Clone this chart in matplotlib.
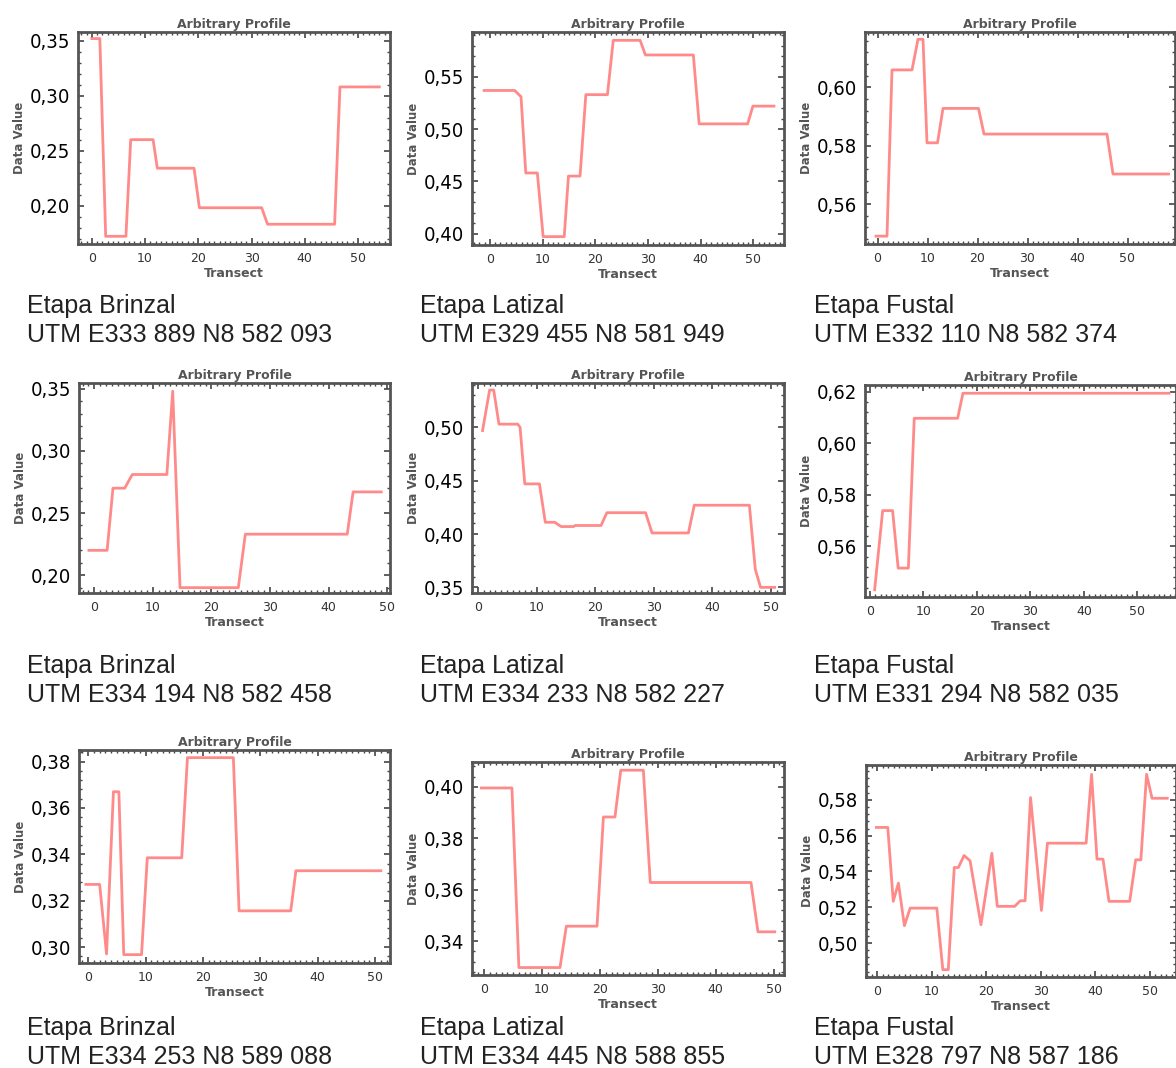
import matplotlib
matplotlib.use('Agg')
import matplotlib.pyplot as plt
from matplotlib.ticker import MultipleLocator, FuncFormatter

# profile vertices (transect, data value)
p1_x = [0, 1.5, 2.6, 6.4, 7.3, 11.5, 12.3, 19.2, 20.2, 31.9, 33.0, 45.6, 46.6, 54.0]
p1_y = [0.352, 0.352, 0.172, 0.172, 0.260, 0.260, 0.234, 0.234, 0.198, 0.198, 0.183, 0.183, 0.308, 0.308]

p2_x = [-1.1, 4.7, 5.9, 6.8, 9.0, 10.1, 14.1, 14.9, 17.1, 18.2, 22.3, 23.4, 28.5, 29.5, 38.6, 39.7, 48.9, 49.9, 53.9]
p2_y = [0.537, 0.537, 0.531, 0.458, 0.458, 0.397, 0.397, 0.455, 0.455, 0.533, 0.533, 0.585, 0.585, 0.571, 0.571, 0.505, 0.505, 0.522, 0.522]

p3_x = [-0.3, 1.9, 2.9, 6.9, 8.1, 9.1, 9.9, 12.0, 13.1, 20.2, 21.3, 45.9, 47.1, 58.2]
p3_y = [0.549, 0.549, 0.606, 0.606, 0.6165, 0.6165, 0.581, 0.581, 0.5928, 0.5928, 0.584, 0.584, 0.5703, 0.5703]

p4_x = [-0.9, 2.2, 3.2, 5.2, 6.5, 12.4, 13.4, 14.65, 24.6, 25.8, 43.2, 44.2, 49.0]
p4_y = [0.220, 0.220, 0.270, 0.270, 0.281, 0.281, 0.348, 0.190, 0.190, 0.233, 0.233, 0.267, 0.267]

p5_x = [0.8, 2.0, 2.7, 3.6, 6.8, 7.2, 8.0, 10.5, 11.5, 13.1, 14.2, 16.3, 16.6, 21.0, 22.0, 28.6, 29.7, 35.9, 36.9, 46.3, 47.3, 48.2, 50.6]
p5_y = [0.497, 0.535, 0.535, 0.503, 0.503, 0.500, 0.447, 0.447, 0.411, 0.411, 0.407, 0.407, 0.408, 0.408, 0.420, 0.420, 0.401, 0.401, 0.427, 0.427, 0.367, 0.350, 0.350]

p6_x = [0.9, 2.4, 4.25, 5.3, 7.2, 8.3, 16.4, 17.4, 55.9]
p6_y = [0.5432, 0.5739, 0.5739, 0.5516, 0.5516, 0.6097, 0.6097, 0.6194, 0.6194]

p7_x = [-0.4, 2.0, 3.2, 4.4, 5.35, 6.2, 9.3, 10.3, 16.3, 17.3, 25.3, 26.3, 35.3, 36.2, 51.0]
p7_y = [0.327, 0.327, 0.297, 0.367, 0.367, 0.2967, 0.2967, 0.3385, 0.3385, 0.3817, 0.3817, 0.3156, 0.3156, 0.3329, 0.3329]

p8_x = [-0.5, 4.8, 6.0, 13.1, 14.2, 19.5, 20.6, 22.6, 23.6, 27.5, 28.7, 46.1, 47.3, 50.2]
p8_y = [0.3996, 0.3996, 0.3297, 0.3297, 0.3458, 0.3458, 0.3883, 0.3883, 0.4065, 0.4065, 0.3628, 0.3628, 0.3436, 0.3436]

p9_x = [-0.2, 1.9, 2.9, 3.85, 4.95, 6.0, 10.9, 12.0, 13.0, 14.1, 14.85, 15.9, 17.0, 19.0, 21.0, 22.0, 25.2, 26.2, 27.1,
        28.1, 30.1, 31.2, 38.3, 39.3, 40.3, 41.4, 42.5, 46.3, 47.4, 48.35, 49.4, 50.4, 53.2]
p9_y = [0.5646, 0.5646, 0.5233, 0.5335, 0.5097, 0.5195, 0.5195, 0.4851, 0.4851, 0.5422, 0.5422, 0.5489, 0.546, 0.5102,
        0.5502, 0.5205, 0.5205, 0.5236, 0.5236, 0.5813, 0.5182, 0.5558, 0.5558, 0.5943, 0.5469, 0.5469, 0.5233, 0.5233,
        0.5465, 0.5465, 0.5943, 0.5809, 0.5809]

stages = ['Etapa Brinzal', 'Etapa Latizal', 'Etapa Fustal',
          'Etapa Brinzal', 'Etapa Latizal', 'Etapa Fustal',
          'Etapa Brinzal', 'Etapa Latizal', 'Etapa Fustal']
coords = ['UTM E333 889 N8 582 093', 'UTM E329 455 N8 581 949', 'UTM E332 110 N8 582 374',
          'UTM E334 194 N8 582 458', 'UTM E334 233 N8 582 227', 'UTM E331 294 N8 582 035',
          'UTM E334 253 N8 589 088', 'UTM E334 445 N8 588 855', 'UTM E328 797 N8 587 186']

series = [(p1_x, p1_y), (p2_x, p2_y), (p3_x, p3_y),
          (p4_x, p4_y), (p5_x, p5_y), (p6_x, p6_y),
          (p7_x, p7_y), (p8_x, p8_y), (p9_x, p9_y)]

W, H = 1176, 1068
# axes boxes in pixels: left, right, top, bottom
boxes = [(78, 390, 32, 244), (472, 784, 32, 245), (865, 1175, 32, 244),
         (79, 390, 383, 593), (472, 784, 383, 593), (865, 1176, 385, 597),
         (79, 390, 750, 963), (472, 784, 762, 975), (866, 1176, 765, 977)]
xlims = [(-2.6, 56.0), (-3.4, 55.8), (-2.5, 59.5),
         (-2.6, 50.5), (-1.0, 52.2), (-0.9, 57.2),
         (-1.6, 52.6), (-2.1, 51.8), (-2.1, 54.8)]
ylims = [(0.165, 0.358), (0.389, 0.593), (0.5463, 0.619),
         (0.1857, 0.3546), (0.3447, 0.5416), (0.5404, 0.6226),
         (0.2931, 0.385), (0.3268, 0.4097), (0.481, 0.5995)]
ymajor = [0.05, 0.05, 0.02, 0.05, 0.05, 0.02, 0.02, 0.02, 0.02]
yminor = [0.01, 0.01, 0.004, 0.01, 0.01, 0.004, 0.004, 0.004, 0.004]
caption_pos = [(27, 306), (420, 306), (814, 306),
               (27, 666), (420, 666), (814, 666),
               (27, 1028), (420, 1028), (814, 1028)]

fig = plt.figure(figsize=(W / 100, H / 100), dpi=100)
fig.patch.set_facecolor('white')

comma = FuncFormatter(lambda v, p: ('%.2f' % v).replace('.', ','))

for i, (xs, ys) in enumerate(series):
    l, r, t, b = boxes[i]
    ax = fig.add_axes([l / W, 1 - b / H, (r - l) / W, (b - t) / H])
    ax.plot(xs, ys, color='#ff8a8a', lw=2)
    ax.set_xlim(*xlims[i])
    ax.set_ylim(*ylims[i])
    ax.xaxis.set_major_locator(MultipleLocator(10))
    ax.xaxis.set_minor_locator(MultipleLocator(1))
    ax.yaxis.set_major_locator(MultipleLocator(ymajor[i]))
    ax.yaxis.set_minor_locator(MultipleLocator(yminor[i]))
    ax.yaxis.set_major_formatter(comma)
    ax.tick_params(which='both', direction='in', top=True, right=True, color='#444444')
    ax.tick_params(which='major', length=4, width=1.2)
    ax.tick_params(which='minor', length=2, width=1)
    ax.tick_params(axis='x', labelsize=9, labelcolor='#333333', pad=6)
    ax.tick_params(axis='y', labelsize=14.5, labelcolor='black', pad=6)
    for lab in ax.get_yticklabels():
        lab.set_family('DejaVu Sans')
        lab.set_stretch('condensed')
    for s in ax.spines.values():
        s.set_color('#555555')
        s.set_linewidth(2)
    ax.set_title('Arbitrary Profile', fontsize=9, color='#555555', fontweight='bold', pad=3)
    ax.set_xlabel('Transect', fontsize=9, color='#555555', fontweight='bold', labelpad=1)
    ax.set_ylabel('Data Value', fontsize=8.5, color='#555555', fontweight='bold')
    ax.yaxis.set_label_coords(-52 / (r - l), 0.5)

    cx, cy = caption_pos[i]
    fig.text(cx / W, 1 - cy / H, stages[i], fontsize=18, family='Liberation Sans',
             color='#222222', va='center', ha='left')
    fig.text(cx / W, 1 - (cy + 29) / H, coords[i], fontsize=18, family='Liberation Sans',
             color='#222222', va='center', ha='left')

fig.savefig('out.png', dpi=100, facecolor='white')
